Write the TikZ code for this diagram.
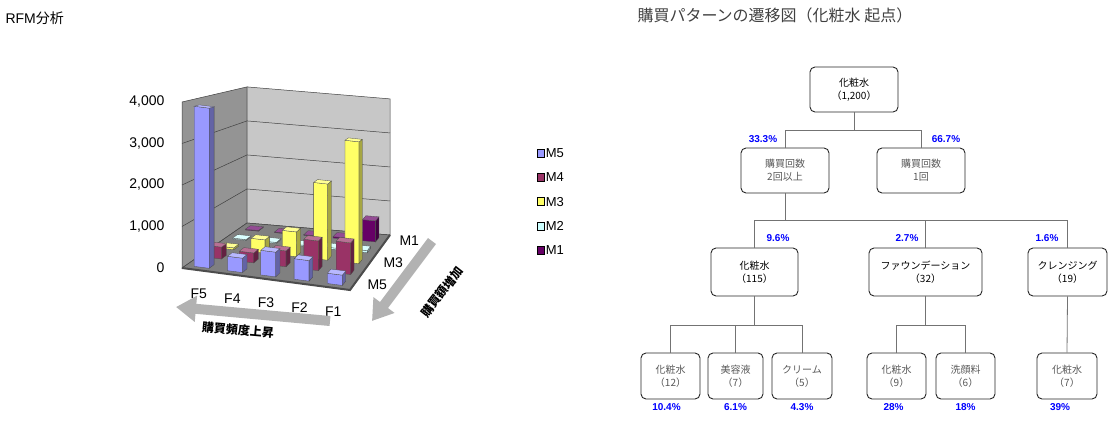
\documentclass[tikz,border=0pt]{standalone}
\usepackage{fontspec}
\setmainfont{Noto Sans CJK JP}
\newfontfamily\arialf{Liberation Sans}
\usetikzlibrary{positioning,arrows.meta}
\definecolor{mfive}{HTML}{9999FF}
\definecolor{mfour}{HTML}{993366}
\definecolor{mthree}{HTML}{FFFF66}
\definecolor{mtwo}{HTML}{CCFFFF}
\definecolor{mone}{HTML}{660066}
\tikzstyle{treebox}=[rectangle, draw=black!85, rounded corners=5pt, line width=0.9pt, align=center,
        inner sep=0pt, font=\fontsize{10}{13}\selectfont]
\tikzstyle{conn}=[-, draw=black!55, line width=0.8pt]
\tikzstyle{pct}=[text=blue, font=\arialf\bfseries\fontsize{10}{12}\selectfont]
\tikzstyle{axislbl}=[font=\arialf\fontsize{14}{16}\selectfont]
\tikzstyle{barline}=[draw=black!70, line width=0.3pt]
\tikzstyle{gridline}=[draw=black!75, line width=0.5pt]
\tikzstyle{bigarrow}=[line width=10pt, draw=black!30, -{Triangle[length=20pt,width=25pt]}]
\tikzstyle{legbox}=[rectangle, draw=black, minimum width=7pt, minimum height=8pt, inner sep=0pt]
% point of the chart: F position, M depth, value
\newcommand\rfmpt[4]{%
  \pgfmathsetmacro\rfmx{182+13*(#3)+(33.6-(#3))*(#2)}%
  \pgfmathsetmacro\rfmy{268-9*(#3)+(4.4-0.4*(#3))*(#2)-(#4)*(0.0415-0.0015*(#3))}%
  \coordinate (#1) at (\rfmx,\rfmy);}
\newcommand\rfmbar[4]{%
  \rfmpt{ba}{#1+0.25}{#2+0.3}{0}
  \rfmpt{bb}{#1+0.7}{#2+0.3}{0}
  \rfmpt{bc}{#1+0.7}{#2+0.3}{#3}
  \rfmpt{bd}{#1+0.25}{#2+0.3}{#3}
  \rfmpt{be}{#1+0.7}{#2+0.7}{0}
  \rfmpt{bf}{#1+0.7}{#2+0.7}{#3}
  \rfmpt{bg}{#1+0.25}{#2+0.7}{#3}
  \filldraw[barline, fill=#4] (ba) -- (bb) -- (bc) -- (bd) -- cycle;
  \filldraw[barline, fill=#4!65!black] (bb) -- (be) -- (bf) -- (bc) -- cycle;
  \filldraw[barline, fill=#4!70!white] (bd) -- (bc) -- (bf) -- (bg) -- cycle;}
\begin{document}
\begin{tikzpicture}[x=1pt, y=-1pt]
    \useasboundingbox (0,0) rectangle (1116,426);

    \node[anchor=west, font=\fontsize{14}{16}\selectfont] (rfmtitle) at (2,18) {{\arialf RFM}分析};
    \node[anchor=west, text=black!75, font=\fontsize{16}{18}\selectfont] (treetitle) at (634,15)
        {購買パターンの遷移図（化粧水 起点）};

    % walls and floor
    \rfmpt{wa}{0}{0}{0} \rfmpt{wb}{0}{5}{0} \rfmpt{wc}{5}{5}{0} \rfmpt{wd}{5}{0}{0}
    \rfmpt{wA}{0}{0}{4000} \rfmpt{wB}{0}{5}{4000} \rfmpt{wC}{5}{5}{4000}
    \filldraw[gridline, fill=black!42] (wa) -- (wb) -- (wB) -- (wA) -- cycle;
    \filldraw[gridline, fill=black!22] (wb) -- (wc) -- (wC) -- (wB) -- cycle;
    \foreach \v in {1000,2000,3000} {
        \rfmpt{g1}{0}{0}{\v} \rfmpt{g2}{0}{5}{\v} \rfmpt{g3}{5}{5}{\v}
        \draw[gridline] (g1) -- (g2) -- (g3);
    }
    \filldraw[gridline, fill=black!50] (wa) -- (wb) -- (wc) -- (wd) -- cycle;
    \draw[black!70, line width=2pt] (wa) -- (wd) -- (wc);

    % bars, back row first
    \foreach \j/\clr/\vals in {4/mone/{20,20,20,40,600}, 3/mtwo/{25,30,30,40,60},
        2/mthree/{50,350,650,2000,3200}, 1/mfour/{300,250,400,750,800},
        0/mfive/{3900,350,600,500,250}} {
        \foreach \h [count=\i from 0] in \vals {\rfmbar{\i}{\j}{\h}{\clr}}
    }

    % axis labels
    \foreach \v/\t in {0/0, 1000/{1,000}, 2000/{2,000}, 3000/{3,000}, 4000/{4,000}} {
        \rfmpt{tk}{0}{0}{\v}
        \node[axislbl, anchor=east] (tick\v) at ([xshift=-14pt]tk) {\t};
    }
    \foreach \f [count=\i from 0] in {5,4,3,2,1} {
        \rfmpt{fl}{\i+0.5}{0}{0}
        \node[axislbl] (flab\f) at ([yshift=-24pt]fl) {F\f};
    }
    \foreach \m/\d in {5/0.5, 3/2.5, 1/4.5} {
        \rfmpt{ml}{5}{\d}{0}
        \node[axislbl, anchor=west] (mlab\m) at ([xshift=10pt]ml) {M\m};
    }

    % big arrows
    \coordinate (ftail) at (330,321);
    \coordinate (fhead) at (176,307);
    \coordinate (mtail) at (432,241);
    \coordinate (mhead) at (372,321);
    \draw[bigarrow] (ftail) -- (fhead);
    \draw[bigarrow] (mtail) -- (mhead);
    \node[rotate=-5, font=\fontsize{12}{14}\selectfont\bfseries] (ftext) at (238,330) {購買頻度上昇};
    \node[rotate=52, font=\fontsize{12}{14}\selectfont\bfseries] (mtext) at (442,292) {購買額増加};

    % legend
    \foreach \n/\c [count=\k from 0] in {M5/mfive, M4/mfour, M3/mthree, M2/mtwo, M1/mone} {
        \node[legbox, fill=\c] (leg\n) at (541,{153+24.3*\k}) {};
        \node[anchor=west, inner sep=1pt, font=\arialf\fontsize{13}{15}\selectfont] (legt\n) at (leg\n.east) {\n};
    }

    % transition tree
    \node[treebox, minimum width=88pt, minimum height=45pt] (root) at (854,89.5) {化粧水\\（1,200）};
    \node[treebox, minimum width=88pt, minimum height=45pt, text=black!65] (twice) at (785,170.5) {購買回数\\2回以上};
    \node[treebox, minimum width=88pt, minimum height=45pt, text=black!65] (once) at (921,170.5) {購買回数\\1回};

    \node[treebox, minimum width=87pt, minimum height=48pt] (lotion) at (754.5,272) {化粧水\\（115）};
    \node[treebox, minimum width=113pt, minimum height=48pt] (foundation) at (925.5,272) {ファウンデーション\\（32）};
    \node[treebox, minimum width=79pt, minimum height=48pt] (cleansing) at (1067.5,272) {クレンジング\\（19）};

    \node[treebox, minimum width=59pt, minimum height=46pt, text=black!65] (lotionA) at (670.5,376) {化粧水\\（12）};
    \node[treebox, minimum width=55pt, minimum height=46pt, text=black!65] (serum) at (735.5,376) {美容液\\（7）};
    \node[treebox, minimum width=60pt, minimum height=46pt, text=black!65] (cream) at (802,376) {クリーム\\（5）};
    \node[treebox, minimum width=59pt, minimum height=46pt, text=black!65] (lotionB) at (896.5,376) {化粧水\\（9）};
    \node[treebox, minimum width=59pt, minimum height=46pt, text=black!65] (wash) at (965.5,376) {洗顔料\\（6）};
    \node[treebox, minimum width=60pt, minimum height=46pt, text=black!65] (lotionC) at (1067,376) {化粧水\\（7）};

    \draw[conn] (root.south) -- ++(0,18) -| (twice.north);
    \draw[conn] (root.south) ++(0,18) -| (once.north);
    \draw[conn] (twice.south) -- ++(0,27) -| (lotion.north);
    \draw[conn] (twice.south) ++(0,27) -| (foundation.north);
    \draw[conn] (twice.south) ++(0,27) -| (cleansing.north);
    \draw[conn] (lotion.south) -- ++(0,29) -| (lotionA.north);
    \draw[conn] (lotion.south) ++(0,29) -| (serum.north);
    \draw[conn] (lotion.south) ++(0,29) -| (cream.north);
    \draw[conn] (foundation.south) -- ++(0,29) -| (lotionB.north);
    \draw[conn] (foundation.south) ++(0,29) -| (wash.north);
    \draw[conn] (cleansing.south) -- (lotionC.north);

    \node[pct] (ptwice) at (763,139) {33.3\%};
    \node[pct] (ponce) at (946,139) {66.7\%};
    \node[pct] (plotion) at (778,238) {9.6\%};
    \node[pct] (pfound) at (907,238) {2.7\%};
    \node[pct] (pclean) at (1047,238) {1.6\%};
    \node[pct, below=1pt of lotionA, xshift=-4pt] (plotionA) {10.4\%};
    \node[pct, below=1pt of serum] (pserum) {6.1\%};
    \node[pct, below=1pt of cream] (pcream) {4.3\%};
    \node[pct, below=1pt of lotionB, xshift=-3pt] (plotionB) {28\%};
    \node[pct, below=1pt of wash] (pwash) {18\%};
    \node[pct, below=1pt of lotionC, xshift=-7pt] (plotionC) {39\%};
\end{tikzpicture}
\end{document}
